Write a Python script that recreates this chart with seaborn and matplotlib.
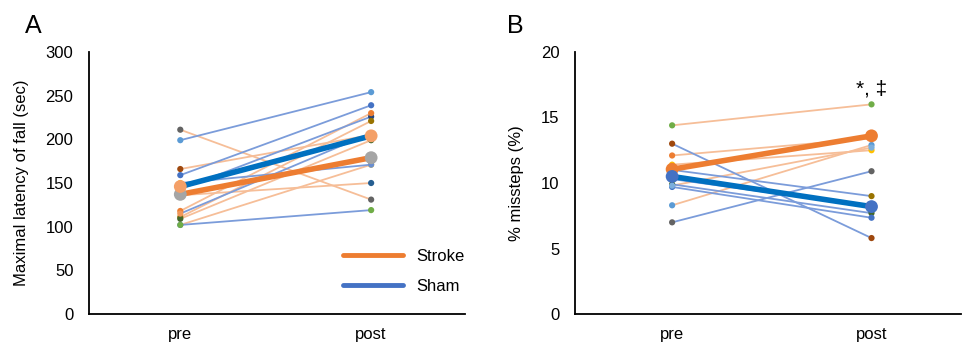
"""
plot.py
Pre/post paired plots: rotarod latency (A) and % missteps (B), stroke vs sham.
"""

import pandas as pd
import matplotlib
matplotlib.use("Agg")
import matplotlib.pyplot as plt
from matplotlib.lines import Line2D
import seaborn as sns

PHASES = ["pre", "post"]
GROUPS = ["Stroke", "Sham"]

# panel A: maximal latency of fall (sec), one entry per animal
a_color = ["#636363", "#5B9BD5", "#9E480E", "#4472C4", "#FFC000", "#264478", "#255E91",
           "#ED7D31", "#997300", "#43682B", "#698ED0", "#70AD47", "#F1975A"]
a_group = ["Stroke", "Sham", "Stroke", "Sham", "Sham", "Sham", "Stroke",
           "Stroke", "Stroke", "Stroke", "Stroke", "Sham", "Sham"]
a_pre = [211, 199, 166, 159, 150, 143, 136, 118, 111, 109, 102, 102, 115]
a_post = [131, 254, 205, 239, 171, 226, 150, 230, 221, 199, 171, 119, 207]
a_mean_stroke = [137, 179]
a_mean_sham = [146, 204]

# panel B: % missteps
b_color = ["#70AD47", "#9E480E", "#ED7D31", "#FFC000", "#997300", "#255E91",
           "#43682B", "#4472C4", "#5B9BD5", "#636363", "#7CAFDD"]
b_group = ["Stroke", "Sham", "Stroke", "Stroke", "Sham", "Sham",
           "Sham", "Sham", "Stroke", "Sham", "Stroke"]
b_pre = [14.4, 13.0, 12.1, 11.4, 11.0, 10.3, 9.9, 9.7, 8.3, 7.0, 9.8]
b_post = [16.0, 5.8, 13.4, 12.5, 9.0, 8.2, 7.7, 7.35, 12.9, 10.9, 12.7]
b_mean_stroke = [11.05, 13.6]
b_mean_sham = [10.5, 8.2]

LINE_COLORS = {"Stroke": "#F6BE98", "Sham": "#7B9CDA"}
MEAN_COLORS = {"Stroke": "#ED7D31", "Sham": "#0070C0"}


def to_long(colors, groups, pre, post):
    rows = []
    for i in range(len(pre)):
        for x, v in enumerate([pre[i], post[i]]):
            rows.append({"subject": i, "group": groups[i], "color": colors[i], "x": x, "value": v})
    return pd.DataFrame(rows)


def draw_panel(ax, df, mean_stroke, mean_sham, marker_colors):
    # individual animals: thin group-coloured lines
    for g in ["Stroke", "Sham"]:
        sub = df[df["group"] == g]
        sns.lineplot(data=sub, x="x", y="value", units="subject", estimator=None,
                     color=LINE_COLORS[g], linewidth=1.3, ax=ax, legend=False, zorder=2)
    sns.scatterplot(data=df, x="x", y="value", hue="subject",
                    palette=dict(zip(df["subject"], df["color"])),
                    s=20, edgecolor="none", ax=ax, legend=False, zorder=3)
    # group means
    means = pd.DataFrame({"x": [0, 1, 0, 1],
                          "value": mean_stroke + mean_sham,
                          "group": ["Stroke", "Stroke", "Sham", "Sham"]})
    sns.lineplot(data=means, x="x", y="value", hue="group", palette=MEAN_COLORS,
                 linewidth=4, ax=ax, legend=False, zorder=4)
    mk = means.assign(mk=["s", "s", "h", "h"])
    sns.scatterplot(data=mk, x="x", y="value", hue="mk",
                    palette={"s": marker_colors[0], "h": marker_colors[1]},
                    s=85, edgecolor="none", ax=ax, legend=False, zorder=5)


def style_axis(ax, ylim, yticks, ylabel, letter, letter_x):
    ax.set_ylim(*ylim)
    ax.set_yticks(yticks)
    ax.set_xticks([0, 1])
    ax.set_xticklabels(PHASES)
    ax.set_xlabel("")
    ax.set_ylabel(ylabel, fontsize=12, labelpad=12)
    ax.tick_params(axis="y", length=0, labelsize=12, pad=11)
    ax.tick_params(axis="x", length=0, labelsize=12, pad=9)
    sns.despine(ax=ax)
    for s in ["left", "bottom"]:
        ax.spines[s].set_color("black")
        ax.spines[s].set_linewidth(1.3)
    ax.text(letter_x, 1.072, letter, transform=ax.transAxes, fontsize=18, va="baseline")


def main():
    sns.set_style("white")
    plt.rcParams["font.family"] = ["Liberation Sans", "DejaVu Sans"]
    plt.rcParams["text.color"] = "black"
    plt.rcParams["axes.labelcolor"] = "black"
    plt.rcParams["xtick.color"] = "black"
    plt.rcParams["ytick.color"] = "black"

    fig = plt.figure(figsize=(9.64, 3.44), dpi=100)
    ax_a = fig.add_axes([0.092, 0.087, 0.39, 0.762])
    ax_b = fig.add_axes([0.5965, 0.087, 0.40, 0.762])

    df_a = to_long(a_color, a_group, a_pre, a_post)
    draw_panel(ax_a, df_a, a_mean_stroke, a_mean_sham, ["#A5A5A5", "#F4A068"])
    style_axis(ax_a, (0, 300), range(0, 301, 50), "Maximal latency of fall (sec)", "A", -0.17)
    ax_a.set_xlim(-0.48, 1.49)

    handles = [Line2D([], [], color="#ED7D31", lw=3.5), Line2D([], [], color="#4472C4", lw=3.5)]
    ax_a.legend(handles, GROUPS, loc="lower right", bbox_to_anchor=(1.04, 0.02), frameon=False,
                fontsize=12, handlelength=3.6, labelspacing=0.9, handletextpad=0.8)

    df_b = to_long(b_color, b_group, b_pre, b_post)
    draw_panel(ax_b, df_b, b_mean_stroke, b_mean_sham, ["#ED7D31", "#4472C4"])
    style_axis(ax_b, (0, 20), range(0, 21, 5), "% missteps (%)", "B", -0.177)
    ax_b.set_xlim(-0.487, 1.447)
    ax_b.text(1, 17.2, "*, \u2021", ha="center", va="center", fontsize=15)

    fig.savefig("out.png", dpi=100)
    plt.close(fig)


if __name__ == "__main__":
    main()
